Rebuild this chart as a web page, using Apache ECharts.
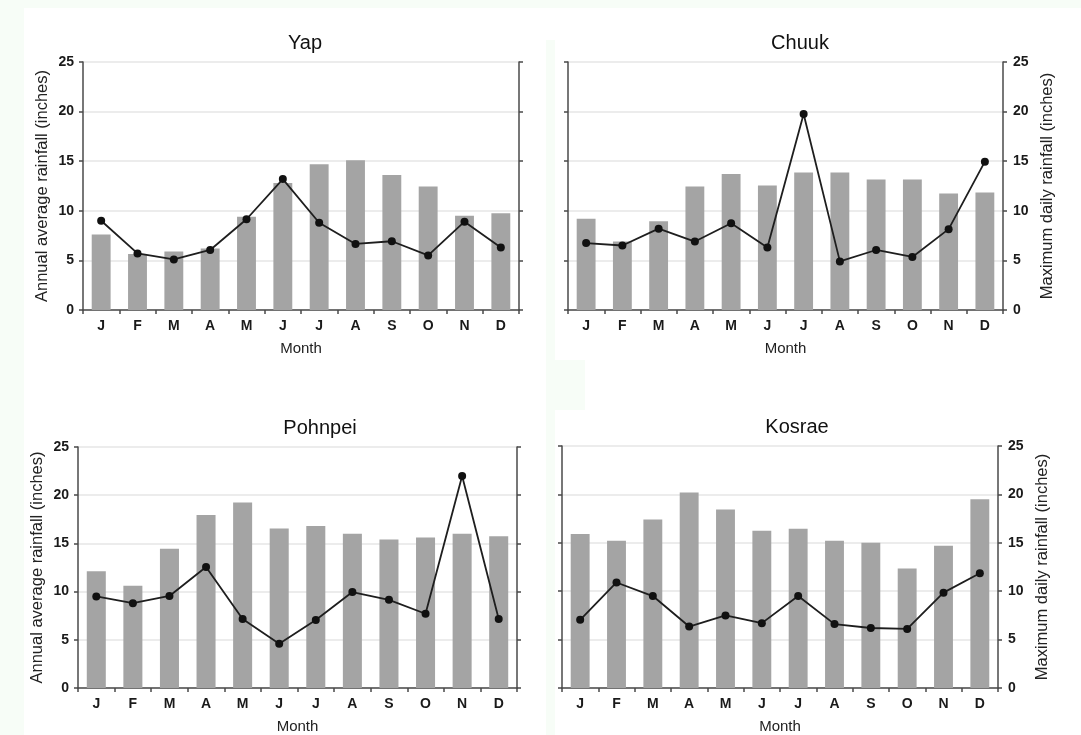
<!DOCTYPE html>
<html>
<head>
<meta charset="utf-8">
<script src="https://cdn.jsdelivr.net/npm/echarts@6/dist/echarts.min.js"></script>
<style>
html,body{margin:0;padding:0;background:#fff;}
#c{width:1081px;height:735px;}
</style>
</head>
<body>
<div id="c"></div>
<script>
const months = ['J','F','M','A','M','J','J','A','S','O','N','D'];
const yTicks = [0, 5, 10, 15, 20, 25];
const stations = ['Yap', 'Chuuk', 'Pohnpei', 'Kosrae'];

const yapAvg = [7.6, 5.65, 5.9, 6.2, 9.4, 12.8, 14.7, 15.1, 13.6, 12.45, 9.5, 9.75];
const yapMax = [9.0, 5.7, 5.1, 6.05, 9.15, 13.2, 8.8, 6.66, 6.93, 5.5, 8.9, 6.3];

const chuukAvg = [9.2, 6.9, 8.95, 12.45, 13.7, 12.55, 13.85, 13.85, 13.15, 13.15, 11.75, 11.85];
const chuukMax = [6.75, 6.5, 8.2, 6.9, 8.75, 6.3, 19.75, 4.9, 6.05, 5.35, 8.15, 14.95];

const pohnpeiAvg = [12.1, 10.6, 14.45, 17.95, 19.25, 16.55, 16.8, 16.0, 15.4, 15.6, 16.0, 15.75];
const pohnpeiMax = [9.5, 8.8, 9.55, 12.55, 7.15, 4.6, 7.05, 9.95, 9.15, 7.7, 22.0, 7.15];

const kosraeAvg = [15.9, 15.2, 17.4, 20.2, 18.45, 16.25, 16.45, 15.2, 15.0, 12.35, 14.7, 19.5];
const kosraeMax = [7.05, 10.9, 9.5, 6.35, 7.5, 6.7, 9.5, 6.6, 6.2, 6.1, 9.85, 11.85];

const avgSeries = [yapAvg, chuukAvg, pohnpeiAvg, kosraeAvg];
const maxSeries = [yapMax, chuukMax, pohnpeiMax, kosraeMax];

const leftName = 'Annual average rainfall (inches)';
const rightName = 'Maximum daily rainfall (inches)';

const grids = [
  {left: 83, top: 62, width: 436, height: 248},
  {left: 568, top: 62, width: 435, height: 248},
  {left: 78, top: 447, width: 439, height: 247},
  {left: 562, top: 446, width: 436, height: 247}
];
const titlePos = [[305, 33], [800, 33], [320, 418], [797, 417]];

const FONT = '"Liberation Sans", Arial, sans-serif';
const axisLineStyle = {color: '#4a4a4a', width: 1.5};

const xAxes = [], yAxes = [], series = [], titles = [];
grids.forEach((g, i) => {
  const isLeftPanel = (i % 2 === 0);
  titles.push({
    text: stations[i], left: titlePos[i][0], top: titlePos[i][1], textAlign: 'center', padding: 0,
    textStyle: {fontFamily: FONT, fontSize: 20, fontWeight: 'normal', color: '#111'}
  });
  xAxes.push({
    type: 'category', gridIndex: i, data: months, boundaryGap: true,
    name: 'Month', nameLocation: 'middle', nameGap: 31,
    nameTextStyle: {fontFamily: FONT, fontSize: 15, color: '#222'},
    axisLine: {show: true, lineStyle: axisLineStyle},
    axisTick: {show: true, interval: 0, length: 4, lineStyle: axisLineStyle},
    axisLabel: {interval: 0, margin: 9, fontFamily: FONT, fontSize: 14, fontWeight: 'bold', color: '#1a1a1a'},
    splitLine: {show: false}
  });
  yAxes.push({
    type: 'value', gridIndex: i, position: 'left', min: 0, max: 25, interval: 5,
    name: isLeftPanel ? leftName : '', nameLocation: 'middle', nameGap: 32,
    nameTextStyle: {fontFamily: FONT, fontSize: 16.5, color: '#222'},
    axisLine: {show: true, lineStyle: axisLineStyle},
    axisTick: {show: true, length: 4, lineStyle: axisLineStyle},
    axisLabel: {show: isLeftPanel, margin: 9, fontFamily: FONT, fontSize: 14, fontWeight: 'bold', color: '#1a1a1a'},
    splitLine: {show: true, lineStyle: {color: '#e6e6e6', width: 1.5}}
  });
  yAxes.push({
    type: 'value', gridIndex: i, position: 'right', min: 0, max: 25, interval: 5,
    name: isLeftPanel ? '' : rightName, nameLocation: 'middle', nameGap: 36,
    nameTextStyle: {fontFamily: FONT, fontSize: 16.5, color: '#222'},
    axisLine: {show: true, lineStyle: axisLineStyle},
    axisTick: {show: true, length: 4, lineStyle: axisLineStyle},
    axisLabel: {show: !isLeftPanel, margin: 10, fontFamily: FONT, fontSize: 14, fontWeight: 'bold', color: '#1a1a1a'},
    splitLine: {show: false}
  });
  series.push({
    type: 'bar', xAxisIndex: i, yAxisIndex: 2 * i, data: avgSeries[i],
    barWidth: '52%', itemStyle: {color: '#a4a4a4'}, silent: true, z: 2
  });
  series.push({
    type: 'line', xAxisIndex: i, yAxisIndex: 2 * i + 1, data: maxSeries[i],
    symbol: 'circle', symbolSize: 8, showSymbol: true,
    lineStyle: {color: '#1e1e1e', width: 1.8},
    itemStyle: {color: '#111'}, silent: true, z: 3
  });
});

const tint = '#f7fdf7';
const chart = echarts.init(document.getElementById('c'), null, {renderer: 'canvas'});
chart.setOption({
  animation: false,
  backgroundColor: '#ffffff',
  graphic: [
    {type: 'rect', shape: {x: 0, y: 0, width: 24, height: 735}, style: {fill: tint}, z: -10, silent: true},
    {type: 'rect', shape: {x: 0, y: 0, width: 1081, height: 8}, style: {fill: tint}, z: -10, silent: true},
    {type: 'rect', shape: {x: 546, y: 40, width: 9, height: 695}, style: {fill: tint}, z: -10, silent: true},
    {type: 'rect', shape: {x: 552, y: 360, width: 33, height: 50}, style: {fill: tint}, z: -10, silent: true}
  ],
  title: titles,
  grid: grids.map(g => Object.assign({containLabel: false}, g)),
  xAxis: xAxes,
  yAxis: yAxes,
  series: series
});
</script>
</body>
</html>
